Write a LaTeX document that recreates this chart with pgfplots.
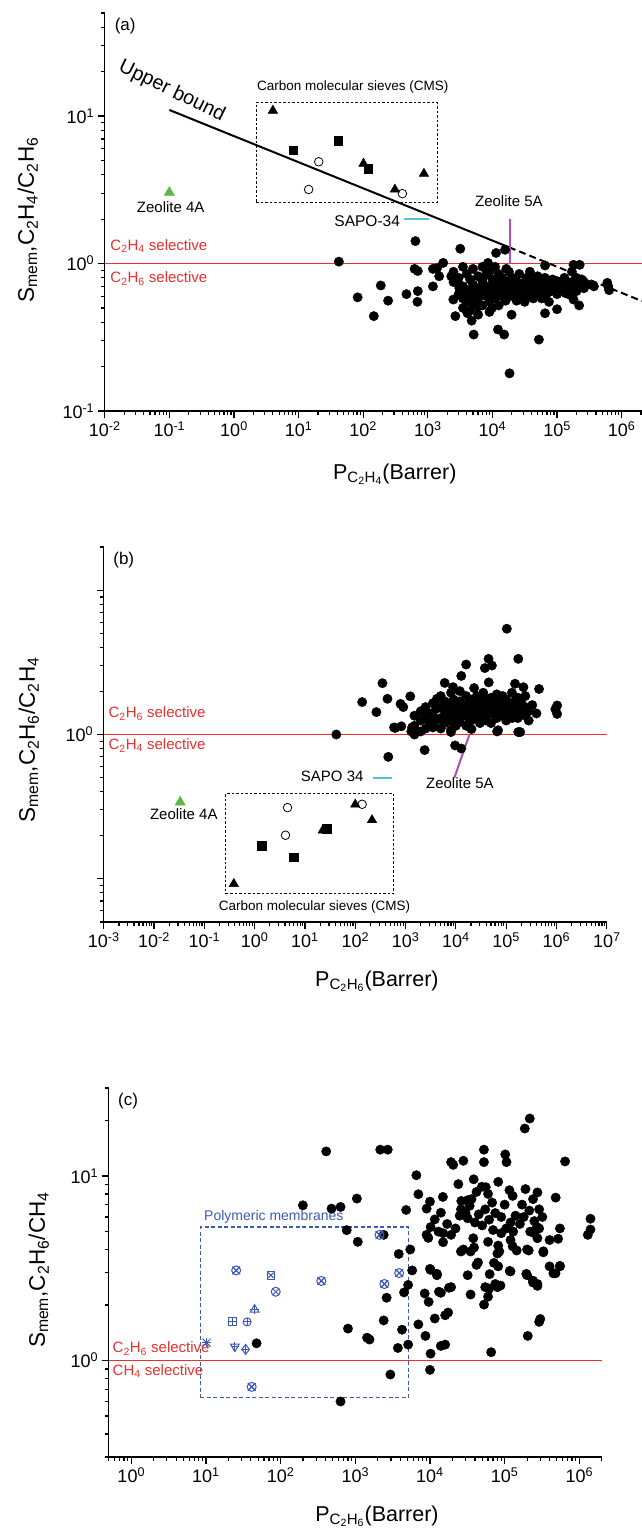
\documentclass[border=0pt]{standalone}
\usepackage{graphicx}
\usepackage{pgfplots}
\pgfplotsset{compat=1.18}
\usepackage{fontspec}
\setmainfont{Liberation Sans}
\definecolor{selred}{RGB}{232,48,46}
\definecolor{zgreen}{RGB}{93,185,70}
\definecolor{zcyan}{RGB}{80,195,215}
\definecolor{zmag}{RGB}{176,77,183}
\definecolor{pblue}{RGB}{60,90,180}
\newcommand\fs[1]{\fontsize{#1}{#1}\selectfont}
\newcommand\su[1]{\textsuperscript{#1}}
\newcommand\sub[1]{\textsubscript{#1}}
\newcommand\mk[3]{\gdef#1{}\foreach \e in {#2,...,#3}{\foreach \m in {2,...,9}{\xdef#1{#1\m e\e,}}}}
\pgfplotsset{
 every axis/.append style={
  scale only axis, xmode=log, ymode=log, clip=false,
  axis x line*=bottom, axis y line*=left,
  axis line style={line width=1.4pt},
  tick align=outside,
  major tick length=7pt, minor tick length=4pt,
  tick style={line width=1.2pt, black},
  tick label style={font=\fs{18}},
  xlabel style={font=\fs{21.5}},
 },
 blackdots/.style={only marks, mark=*, mark size=4.7pt, black},
}
\begin{document}
\mk\ax{-2}{5}\mk\ay{-1}{0}\mk\bx{-3}{5}\mk\cx{0}{5}\mk\cy{0}{0}
\begin{tikzpicture}
\path[use as bounding box] (0,0) rectangle (639pt,-1531pt);
\node[anchor=center, inner sep=0pt, font=\fs{22.5}] at (25pt,-220pt) {\rotatebox{90}{S\sub{mem},C\sub{2}H\sub{4}/C\sub{2}H\sub{6}}};
\node[anchor=center, inner sep=0pt, font=\fs{22.5}] at (26pt,-740pt) {\rotatebox{90}{S\sub{mem},C\sub{2}H\sub{6}/C\sub{2}H\sub{4}}};
\node[anchor=center, inner sep=0pt, font=\fs{22.5}] at (36pt,-1270pt) {\rotatebox{90}{S\sub{mem},C\sub{2}H\sub{6}/CH\sub{4}}};
% ---------------- (a)
\begin{axis}[at={(102pt,-411pt)}, anchor=south west, width=537pt, height=398pt,
 xmin=1e-2, xmax=2.05e6, ymin=0.1, ymax=50,
 xtick={1e-2,1e-1,1,1e1,1e2,1e3,1e4,1e5,1e6},
 xticklabels={10\su{-2},10\su{-1},10\su{0},10\su{1},10\su{2},10\su{3},10\su{4},10\su{5},10\su{6}},
 ytick={0.1,1,10}, yticklabels={10\su{-1},10\su{0},10\su{1}},
 minor xtick/.expanded={\ax 2e6}, minor ytick/.expanded={\ay 20,30,40,50},
 xlabel={P\sub{C\sub{2}H\sub{4}}(Barrer)},
 xlabel style={at={(axis description cs:0.54,-0.1709)}, anchor=base},
]
\addplot[selred, line width=1.3pt] coordinates {(1e-2,1) (2.05e6,1)};
\addplot[blackdots] coordinates {
(42,1.03) (82,0.59) (146,0.44) (187,0.71) (243,0.56) (467,0.62) (643,1.42) (624,0.92) (700,0.89) (700,0.65) (690,0.55)
(1200,0.92) (1390,0.93) (1200,0.70) (1500,0.82) (1730,1.01) (2310,0.82) (2480,0.57) (2670,0.44) (3080,0.68) (3180,1.26)
(4120,0.62) (4120,0.46) (4770,0.41) (5130,0.33) (5930,0.51) (6850,0.67) (8530,1.01) (9870,0.50) (1.22e4,0.357) (1.32e4,0.67)
(1.52e4,0.33) (1.64e4,0.92) (1.98e4,0.45) (2.36e4,0.56) (3.15e4,0.55) (4.22e4,0.74) (5.24e4,0.305) (6.52e4,0.46) (1e5,0.49)
(1.35e5,0.63) (1.8e5,0.57) (2.24e5,0.98) (2.41e5,0.78) (3.72e5,0.70) (6.2e5,0.70) (6.4e5,0.66) (1.84e4,0.18) (1.14e4,1.18)
(1.57e4,1.24) (6.52e4,0.97) (1.8e5,0.98) (2.2e5,0.52)
(2500,0.75) (2500,0.88) (3000,0.80) (3000,0.62) (3000,0.72) (3500,0.95) (3500,0.70) (3500,0.58) (3500,0.50) (4000,0.85)
(4000,0.66) (4000,0.55) (4500,0.78) (4500,0.60) (4500,0.48) (5000,0.92) (5000,0.72) (5000,0.63) (5000,0.53) (6000,0.82)
(6000,0.68) (6000,0.58) (6000,0.45) (7000,0.95) (7000,0.76) (7000,0.62) (7000,0.52) (8000,0.70) (8000,0.60) (8000,0.84)
(9000,0.88) (9000,0.66) (9000,0.55) (9000,0.47) (1e4,0.78) (1e4,0.62) (1e4,0.72) (1.1e4,0.95) (1.1e4,0.68) (1.1e4,0.58)
(1.25e4,0.85) (1.25e4,0.74) (1.25e4,0.62) (1.25e4,0.52) (1.4e4,0.70) (1.4e4,0.60) (1.4e4,0.80) (1.6e4,0.76) (1.6e4,0.64)
(1.6e4,0.56) (1.8e4,0.88) (1.8e4,0.68) (1.8e4,0.60) (2e4,0.72) (2e4,0.62) (2e4,0.80) (2.3e4,0.66) (2.3e4,0.58) (2.3e4,0.76)
(2.6e4,0.85) (2.6e4,0.70) (2.6e4,0.62) (3e4,0.74) (3e4,0.64) (3e4,0.58) (3.4e4,0.80) (3.4e4,0.68) (3.4e4,0.60) (3.8e4,0.72)
(3.8e4,0.62) (3.8e4,0.88) (4.3e4,0.66) (4.3e4,0.58) (4.3e4,0.78) (5e4,0.70) (5e4,0.62) (5e4,0.82) (5.8e4,0.75) (5.8e4,0.65)
(5.8e4,0.58) (6.5e4,0.68) (6.5e4,0.60) (6.5e4,0.80) (7.5e4,0.72) (7.5e4,0.64) (7.5e4,0.55) (8.5e4,0.78) (8.5e4,0.66)
(1e5,0.70) (1e5,0.62) (1e5,0.76) (1.15e5,0.68) (1.15e5,0.74) (1.3e5,0.72) (1.3e5,0.66) (1.3e5,0.80) (1.5e5,0.70) (1.5e5,0.62)
(1.7e5,0.75) (1.7e5,0.68) (1.7e5,0.88) (2e5,0.72) (2e5,0.65) (2e5,0.80) (2.6e5,0.75) (2.6e5,0.68) (3e5,0.72) (6e5,0.74)
};
\addplot[black, line width=2pt] coordinates {(0.1,11) (1.8e4,1.29)};
\addplot[black, line width=2pt, dash pattern=on 7pt off 4pt] coordinates {(1.8e4,1.29) (2.05e6,0.557)};
\addplot[black, line width=1.2pt, dash pattern=on 2.5pt off 2pt] coordinates {(2.2,2.6) (1400,2.6) (1400,12.3) (2.2,12.3) (2.2,2.6)};
\addplot[only marks, mark=triangle*, mark size=5.5pt, black] coordinates {(4.0,10.9) (101,4.76) (309,3.18) (871,4.07)};
\addplot[only marks, mark=square*, mark size=4.3pt, black] coordinates {(8.2,5.87) (41,6.79) (119,4.4)};
\addplot[only marks, mark=o, mark size=4.3pt, black, mark options={line width=0.8pt}] coordinates {(20.5,4.9) (14.3,3.18) (404,2.98)};
\addplot[only marks, mark=triangle*, mark size=6pt, zgreen] coordinates {(0.1,3.03)};
\addplot[zcyan, line width=2pt] coordinates {(434,1.99) (1035,1.99)};
\addplot[zmag, line width=2pt] coordinates {(1.84e4,1) (1.84e4,2.02)};
\node[anchor=north west, font=\fs{17}] at (axis description cs:0.012,0.995) {(a)};
\node[font=\fs{20}, rotate=-26] at (axis cs:0.109,14.7) {Upper bound};
\node[font=\fs{13.5}] at (axis cs:69,15.85) {Carbon molecular sieves (CMS)};
\node[font=\fs{15}] at (axis cs:0.105,2.43) {Zeolite 4A};
\node[font=\fs{15.5}, anchor=east] at (axis cs:420,1.93) {SAPO-34};
\node[font=\fs{15}] at (axis cs:1.8e4,2.67) {Zeolite 5A};
\node[font=\fs{15}, text=selred, anchor=west] at (axis cs:0.0108,1.32) {C\sub{2}H\sub{4} selective};
\node[font=\fs{15}, text=selred, anchor=west] at (axis cs:0.0108,0.79) {C\sub{2}H\sub{6} selective};
\end{axis}
% ---------------- (b)
\begin{axis}[at={(101pt,-922pt)}, anchor=south west, width=503pt, height=375pt,
 xmin=1e-3, xmax=1e7, ymin=0.05, ymax=20,
 xtick={1e-3,1e-2,1e-1,1,1e1,1e2,1e3,1e4,1e5,1e6,1e7},
 xticklabels={10\su{-3},10\su{-2},10\su{-1},10\su{0},10\su{1},10\su{2},10\su{3},10\su{4},10\su{5},10\su{6},10\su{7}},
 ytick={0.1,1,10}, yticklabels={,10\su{0},},
 minor xtick/.expanded={\bx 2e6,3e6,4e6,5e6,6e6,7e6,8e6,9e6}, minor ytick/.expanded={\ay 0.05,0.06,0.07,0.08,0.09,20},
 xlabel={P\sub{C\sub{2}H\sub{6}}(Barrer)},
 xlabel style={at={(axis description cs:0.543,-0.1707)}, anchor=base},
]
\addplot[selred, line width=1.3pt] coordinates {(1e-3,1) (1e7,1)};
\addplot[blackdots] coordinates {
(42,1.0) (137,1.68) (263,1.43) (347,2.27) (436,1.77) (622,1.11) (794,1.63) (824,1.14) (1240,1.84) (1300,1.05) (1500,1.0)
(900,1.55) (6000,2.28) (1.28e4,2.55) (1.6e4,3.06) (3.77e4,2.89) (4.46e4,3.35) (5.2e4,3.01) (1.03e5,5.42) (1.74e5,3.35)
(1.5e5,2.25) (2.2e5,2.13) (4.5e5,2.07) (1.03e6,1.59) (1.03e6,1.39) (9.5e5,1.5) (4200,1.77) (8800,2.13) (6.9e4,1.07)
(1.9e5,1.04) (2390,0.78) (453,0.70) (9660,0.84) (1.28e4,0.80) (2.04e4,1.09) (6.6e4,1.05) (1.74e5,1.04) (590,1.12)
(1350,1.12) (8000,1.04)
(1500,1.35) (1500,1.15) (2000,1.45) (2000,1.25) (2000,1.05) (2500,1.55) (2500,1.30) (2500,1.10) (3000,1.40) (3000,1.20)
(3500,1.65) (3500,1.35) (3500,1.12) (4000,1.50) (4000,1.25) (5000,1.85) (5000,1.55) (5000,1.30) (5000,1.10) (6000,1.70)
(6000,1.45) (6000,1.20) (7000,1.60) (7000,1.35) (8000,1.95) (8000,1.50) (8000,1.25) (8000,1.08) (9000,1.75) (9000,1.40)
(1e4,1.60) (1e4,1.30) (1e4,1.15) (1.2e4,2.0) (1.2e4,1.70) (1.2e4,1.45) (1.2e4,1.22) (1.4e4,1.55) (1.4e4,1.35) (1.6e4,1.85)
(1.6e4,1.60) (1.6e4,1.40) (1.6e4,1.15) (1.8e4,1.50) (1.8e4,1.30) (2e4,1.75) (2e4,1.55) (2e4,1.25) (2.3e4,2.1) (2.3e4,1.65)
(2.3e4,1.40) (2.6e4,1.50) (2.6e4,1.30) (2.6e4,1.85) (3e4,1.70) (3e4,1.45) (3e4,1.20) (3.5e4,1.95) (3.5e4,1.60) (3.5e4,1.35)
(4e4,1.75) (4e4,1.50) (4e4,1.25) (4.5e4,2.3) (4.5e4,1.55) (5e4,1.80) (5e4,1.40) (5e4,1.20) (5.8e4,1.65) (5.8e4,1.45)
(6.5e4,1.90) (6.5e4,1.55) (6.5e4,1.30) (7.5e4,1.70) (7.5e4,1.45) (8.5e4,1.60) (8.5e4,1.35) (8.5e4,1.85) (1e5,1.75)
(1e5,1.50) (1e5,1.25) (1.15e5,1.60) (1.15e5,1.40) (1.3e5,1.95) (1.3e5,1.55) (1.3e5,1.30) (1.5e5,1.70) (1.5e5,1.45)
(1.7e5,1.50) (1.7e5,1.30) (1.7e5,1.80) (2e5,1.65) (2e5,1.40) (2.4e5,1.55) (2.4e5,1.35) (2.4e5,1.85) (2.8e5,1.45)
(2.8e5,1.25) (3.3e5,1.60) (4e5,1.40)
};
\addplot[black, line width=1.2pt, dash pattern=on 2.5pt off 2pt] coordinates {(0.266,0.0787) (582,0.0787) (582,0.389) (0.266,0.389) (0.266,0.0787)};
\addplot[only marks, mark=triangle*, mark size=5.5pt, black] coordinates {(0.385,0.092) (22.5,0.216) (100,0.327) (215,0.255)};
\addplot[only marks, mark=square*, mark size=4.3pt, black] coordinates {(1.39,0.170) (5.97,0.141) (27,0.221)};
\addplot[only marks, mark=o, mark size=4.3pt, black, mark options={line width=0.8pt}] coordinates {(4.5,0.311) (4.1,0.2) (137,0.328)};
\addplot[only marks, mark=triangle*, mark size=6pt, zgreen] coordinates {(0.033,0.339)};
\addplot[zcyan, line width=2pt] coordinates {(224,0.5) (540,0.5)};
\addplot[zmag, line width=2pt] coordinates {(1.86e4,1) (9.3e3,0.5)};
\node[anchor=north west, font=\fs{17}] at (axis description cs:0.012,0.995) {(b)};
\node[font=\fs{13.5}] at (axis cs:15.5,0.064) {Carbon molecular sieves (CMS)};
\node[font=\fs{15}] at (axis cs:0.039,0.278) {Zeolite 4A};
\node[font=\fs{15}, anchor=east] at (axis cs:171,0.51) {SAPO 34};
\node[font=\fs{15}] at (axis cs:1.2e4,0.457) {Zeolite 5A};
\node[font=\fs{15}, text=selred, anchor=west] at (axis cs:0.00106,1.40) {C\sub{2}H\sub{6} selective};
\node[font=\fs{15}, text=selred, anchor=west] at (axis cs:0.00106,0.84) {C\sub{2}H\sub{4} selective};
\end{axis}
% ---------------- (c)
\begin{axis}[at={(106pt,-1457pt)}, anchor=south west, width=493pt, height=369pt,
 xmin=0.5, xmax=2e6, ymin=0.3, ymax=30,
 xtick={1,1e1,1e2,1e3,1e4,1e5,1e6},
 xticklabels={10\su{0},10\su{1},10\su{2},10\su{3},10\su{4},10\su{5},10\su{6}},
 ytick={1,10}, yticklabels={10\su{0},10\su{1}},
 minor xtick/.expanded={\cx 0.5,0.6,0.7,0.8,0.9,2e6}, minor ytick/.expanded={\cy 0.3,0.4,0.5,0.6,0.7,0.8,0.9,20,30},
 xlabel={P\sub{C\sub{2}H\sub{6}}(Barrer)},
 xlabel style={at={(axis description cs:0.544,-0.1734)}, anchor=base},
]
\addplot[selred, line width=1.3pt] coordinates {(0.5,1) (2e6,1)};
\addplot[blackdots] coordinates {
(47.7,1.24) (199,6.94) (408,13.6) (481,6.66) (635,6.8) (1050,7.55) (768,5.09) (1080,4.4) (798,1.49) (1440,1.33) (1550,1.30)
(635,0.60) (2160,13.9) (2720,13.9) (2400,1.65) (2630,2.19) (2950,0.84) (3720,1.17) (4230,1.47) (4500,2.34) (3820,3.78)
(5100,2.57) (5780,3.08) (5450,4.0) (4800,6.55) (5100,1.22) (7000,1.57) (6580,10.1) (7000,7.97) (2400,4.8)
(1e4,7.27) (9020,6.66) (1.02e4,5.29) (9000,4.8) (9500,4.62) (1.16e4,5.82) (1.49e4,7.71) (1.4e4,6.33) (1.92e4,4.8) (1.5e4,4.38)
(1.92e4,11.9) (2.05e4,11.5) (2.8e4,12.1) (2.4e4,9.04) (2.63e4,7.33) (3.2e4,7.4) (3.6e4,7.5) (2.5e4,6.1) (3.2e4,5.9) (4e4,5.6)
(3.85e4,9.6) (4.96e4,8.75) (5.6e4,8.7) (5.28e4,13.9) (5.28e4,11.9) (6.8e4,7.18) (8.2e4,9.3) (1.02e5,13.1) (1.06e5,11.9)
(1.16e5,8.38) (1.28e5,7.81) (1.86e5,18.1) (2.17e5,20.5) (1.71e5,7.0) (2.14e5,6.5) (2.75e5,8.15) (2.9e5,6.6) (4.82e5,7.64)
(6.45e5,12.0) (1.41e6,5.87) (1.41e6,5.13) (1.3e6,4.8) (5.5e5,5.2) (5.2e5,4.57) (4e5,4.5) (2.7e5,5.3) (2.5e5,4.9) (2.75e5,4.6)
(3.3e5,3.91) (2e5,4.0) (1.28e5,4.16) (8.2e4,4.2) (8e4,3.8) (1.2e5,5.6) (1.05e5,5.2) (1.3e5,5.0) (9e4,4.9) (2.8e4,4.0)
(3.8e4,4.6) (3.9e4,4.1) (1.02e4,3.1) (1.24e4,2.9) (3.2e4,2.9) (8.2e4,3.24) (1.2e5,3.04) (4.2e4,3.3) (4.4e4,3.4) (4e5,3.24)
(5.5e5,3.24) (4.8e5,2.97) (2e5,2.9) (2.4e5,2.65) (2.75e5,2.6) (5.5e4,2.5) (6.2e4,2.45) (7.5e4,2.6) (1.92e4,2.5) (1.4e4,2.33)
(8700,1.36) (8500,2.31) (9600,2.08) (1.02e4,1.09) (1e4,0.89) (1e4,3.14) (1.24e4,2.95) (1.16e4,1.69) (1.32e4,2.36) (1.6e4,1.76)
(1.75e4,1.82) (1.8e4,2.48) (1.4e4,1.2) (1.6e4,1.22) (3.5e4,2.28) (5.3e4,2.01) (6e4,2.22) (6.3e4,2.94) (6.6e4,1.11) (7.2e4,3.38)
(8e4,2.5) (8.8e4,2.55) (1.17e5,3.06) (1.95e5,2.95) (2.04e5,1.36) (2.4e5,2.71) (2.75e5,2.54) (2.9e5,1.62) (3e5,1.68)
(3.3e5,3.86) (4.5e5,2.97) (5.5e5,3.26) (8.5e4,3.9) (1.45e5,3.95) (2.1e5,3.95) (3.5e4,3.9) (2.6e4,3.9)
(1.3e4,5.0) (1.7e4,5.5) (2.2e4,5.2) (2.6e4,6.6) (3e4,6.3) (3.4e4,6.9) (4.5e4,6.2) (5e4,5.4) (5.5e4,6.6) (6.2e4,5.8) (7e4,5.1)
(7.5e4,6.3) (9e4,6.0) (1e5,7.0) (1.4e5,6.1) (1.6e5,5.5) (1.8e5,6.0) (2.2e5,5.0) (2.5e5,5.7) (2.9e5,5.2) (3.2e5,6.0)
(1.5e4,4.9) (6e4,4.4) (1.2e5,4.5) (4.2e4,8.2) (6e4,8.0) (1.9e5,8.5) (2.4e5,7.5)
};
\addplot[pblue, line width=1.4pt, dash pattern=on 4pt off 2.5pt] coordinates {(8.45,0.63) (5170,0.63) (5170,5.29) (8.45,5.29) (8.45,0.63)};
\addplot[only marks, pblue, mark=otimes, mark size=4.5pt, mark options={line width=1pt}] coordinates {(2110,4.8) (25.4,3.08) (351,2.70) (86,2.36) (2450,2.6) (3870,2.98) (41,0.72)};
\addplot[only marks, pblue, mark=x, mark size=5.5pt, mark options={line width=1pt}] coordinates {(2110,4.8) (25.4,3.08) (351,2.70) (2450,2.6) (3870,2.98) (10.2,1.25) (41,0.72)};
\addplot[only marks, pblue, mark=square, mark size=3.8pt, mark options={line width=1pt}] coordinates {(74,2.9) (22.6,1.63)};
\addplot[only marks, pblue, mark=x, mark size=3.8pt, mark options={line width=1pt}] coordinates {(74,2.9)};
\addplot[only marks, pblue, mark=+, mark size=4.2pt, mark options={line width=1pt}] coordinates {(22.6,1.63) (35.6,1.62) (44.8,1.89) (24.4,1.19) (34,1.15) (10.2,1.25)};
\addplot[only marks, pblue, mark=o, mark size=4pt, mark options={line width=1pt}] coordinates {(35.6,1.62)};
\addplot[only marks, pblue, mark=triangle, mark size=5pt, mark options={line width=1pt}] coordinates {(44.8,1.89)};
\addplot[only marks, pblue, mark=triangle, mark size=5pt, mark options={line width=1pt, rotate=180}] coordinates {(24.4,1.19)};
\addplot[only marks, pblue, mark=diamond, mark size=5pt, mark options={line width=1pt}] coordinates {(34,1.15)};
\node[anchor=north west, font=\fs{17}] at (axis description cs:0.012,0.995) {(c)};
\node[font=\fs{14}, text=pblue, anchor=west] at (axis cs:8.5,6.04) {Polymeric membranes};
\node[font=\fs{15}, text=selred, anchor=west] at (axis cs:0.506,1.16) {C\sub{2}H\sub{6} selective};
\node[font=\fs{15}, text=selred, anchor=west] at (axis cs:0.506,0.88) {CH\sub{4} selective};
\end{axis}
\end{tikzpicture}
\end{document}
